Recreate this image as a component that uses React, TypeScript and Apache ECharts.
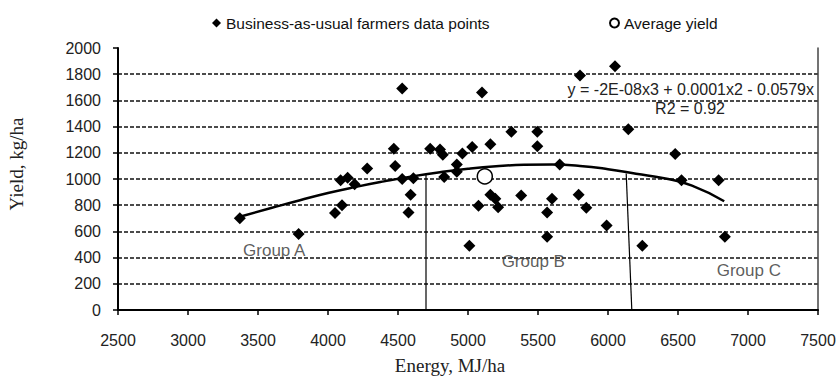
import React, { useEffect, useRef } from 'react';
import * as echarts from 'echarts';

// Business-as-usual farmers data points (Energy MJ/ha, Yield kg/ha)
const farmEnergy = [3370, 3790, 4050, 4100, 4090, 4140, 4190, 4280, 4470, 4480, 4530, 4530, 4590, 4575, 4610, 4730, 4800, 4820, 4830, 4920, 4920, 4960, 5030, 5010, 5075, 5100, 5160, 5160, 5195, 5215, 5310, 5380, 5495, 5495, 5600, 5565, 5565, 5655, 5790, 5845, 5800, 5990, 6050, 6145, 6245, 6480, 6525, 6790, 6835];
const farmYield = [700, 580, 740, 800, 990, 1010, 960, 1080, 1230, 1100, 1690, 1000, 880, 745, 1005, 1230, 1225, 1185, 1015, 1110, 1055, 1195, 1245, 490, 795, 1660, 1265, 880, 850, 785, 1360, 875, 1360, 1250, 850, 745, 560, 1110, 880, 780, 1790, 645, 1860, 1380, 490, 1190, 990, 990, 560];

// Average yield point
const avgEnergy = [5120];
const avgYield = [1020];

// Polynomial trend line
const trendEnergy = [3370, 3600, 3800, 4000, 4200, 4400, 4600, 4800, 5000, 5200, 5400, 5600, 5800, 6000, 6200, 6400, 6600, 6830];
const trendYield = [712, 780, 838, 893, 940, 982, 1020, 1052, 1078, 1097, 1108, 1110, 1100, 1075, 1040, 1005, 950, 830];

// Group divider lines
const dividerAEnergy = [4700, 4700];
const dividerAYield = [0, 1030];
const dividerBEnergy = [6170, 6130];
const dividerBYield = [0, 1042];

// Group labels (left edge, vertical centre)
const groupNames = ['Group A', 'Group B', 'Group C'];
const groupEnergy = [3393, 5240, 6776];
const groupYield = [456, 367, 304];

const xTicks = { min: 2500, max: 7500, interval: 500 };
const yTicks = { min: 0, max: 2000, interval: 200 };

const SANS = '"Liberation Sans", Arial, Helvetica, sans-serif';
const SERIF = '"Liberation Serif", "Times New Roman", serif';

const zip = (a: number[], b: number[]) => a.map((v, i) => [v, b[i]]);

export default function App() {
  const ref = useRef<HTMLDivElement>(null);
  useEffect(() => {
    if (!ref.current) return;
    const chart = echarts.init(ref.current, null, { renderer: 'svg' });
    const option: any = {
      animation: false,
      backgroundColor: '#fff',
      grid: { left: 118, right: 22, top: 48, bottom: 66, outerBoundsMode: 'none' },
      legend: [
        {
          data: ['Business-as-usual farmers data points'],
          left: 207,
          top: 10,
          itemWidth: 9,
          itemHeight: 9,
          textStyle: { fontSize: 15.5, fontFamily: SANS, color: '#111' },
        },
        {
          data: ['Average yield'],
          left: 604,
          top: 10,
          itemWidth: 9,
          itemHeight: 9,
          textStyle: { fontSize: 15.5, fontFamily: SANS, color: '#111' },
        },
      ],
      xAxis: {
        type: 'value',
        min: xTicks.min,
        max: xTicks.max,
        interval: xTicks.interval,
        axisLine: { show: true, onZero: false, lineStyle: { color: '#000', width: 2 } },
        axisTick: { show: true, length: 5, lineStyle: { color: '#000', width: 1.5 } },
        axisLabel: { fontSize: 16, fontFamily: SANS, color: '#222', margin: 22, formatter: (v: number) => String(v) },
        splitLine: { show: false },
      },
      yAxis: [
        {
          type: 'value',
          min: yTicks.min,
          max: yTicks.max,
          interval: yTicks.interval,
          axisLine: { show: true, lineStyle: { color: '#000', width: 2 } },
          axisTick: { show: true, length: 5, lineStyle: { color: '#000', width: 1.5 } },
          axisLabel: { fontSize: 16, fontFamily: SANS, color: '#222', margin: 17, formatter: (v: number) => String(v) },
          splitLine: {
            show: true,
            showMinLine: false,
            showMaxLine: false,
            lineStyle: { color: '#111', width: 1.5, type: [4, 2] },
          },
        },
        {
          type: 'value',
          position: 'right',
          min: yTicks.min,
          max: yTicks.max,
          interval: yTicks.interval,
          axisLine: { show: true, lineStyle: { color: '#444', width: 1.5 } },
          axisTick: { show: false },
          axisLabel: { show: false },
          splitLine: { show: false },
        },
      ],
      series: [
        {
          name: 'Group divider A',
          type: 'line',
          data: zip(dividerAEnergy, dividerAYield),
          symbol: 'none',
          lineStyle: { color: '#000', width: 1.2 },
          z: 3,
        },
        {
          name: 'Group divider B',
          type: 'line',
          data: zip(dividerBEnergy, dividerBYield),
          symbol: 'none',
          lineStyle: { color: '#000', width: 1.2 },
          z: 3,
        },
        {
          name: 'Trend',
          type: 'line',
          data: zip(trendEnergy, trendYield),
          smooth: true,
          symbol: 'none',
          lineStyle: { color: '#000', width: 2.5 },
          z: 4,
        },
        {
          name: 'Business-as-usual farmers data points',
          type: 'scatter',
          data: zip(farmEnergy, farmYield),
          symbol: 'diamond',
          symbolSize: 12,
          itemStyle: { color: '#000', opacity: 1 },
          z: 5,
        },
        {
          name: 'Average yield',
          type: 'scatter',
          data: zip(avgEnergy, avgYield),
          symbol: 'circle',
          symbolSize: 15,
          itemStyle: { color: '#fff', borderColor: '#000', borderWidth: 1.5, opacity: 1 },
          z: 6,
        },
        {
          name: 'Group labels',
          type: 'scatter',
          data: groupNames.map((n, i) => [groupEnergy[i], groupYield[i], n]),
          symbolSize: 0.1,
          itemStyle: { color: 'rgba(0,0,0,0)' },
          label: {
            show: true,
            position: 'right',
            distance: 0,
            formatter: (p: any) => p.value[2],
            fontSize: 17,
            fontFamily: SANS,
            color: '#333',
          },
          z: 6,
        },
      ],
      graphic: [
        {
          type: 'text',
          right: 26,
          top: 81,
          style: {
            text: 'y = -2E-08x3 + 0.0001x2 - 0.0579x',
            fontSize: 16,
            fontFamily: SANS,
            fill: '#222',
          },
          z: 10,
        },
        {
          type: 'text',
          x: 690,
          y: 108,
          style: {
            text: 'R2 = 0.92',
            fontSize: 16,
            fontFamily: SANS,
            fill: '#222',
            textAlign: 'center',
            textVerticalAlign: 'middle',
          },
          z: 10,
        },
        {
          type: 'text',
          x: 16,
          y: 164,
          rotation: Math.PI / 2,
          style: {
            text: 'Yield, kg/ha',
            fontSize: 19,
            fontFamily: SERIF,
            fill: '#222',
            textAlign: 'center',
            textVerticalAlign: 'middle',
          },
        },
        {
          type: 'text',
          x: 450,
          y: 365,
          style: {
            text: 'Energy, MJ/ha',
            fontSize: 19,
            fontFamily: SERIF,
            fill: '#222',
            textAlign: 'center',
            textVerticalAlign: 'middle',
          },
        },
      ],
    };
    chart.setOption(option);
    return () => chart.dispose();
  }, []);
  return <div ref={ref} style={{ width: 840, height: 376, position: 'absolute', left: 0, top: 0 }} />;
}
